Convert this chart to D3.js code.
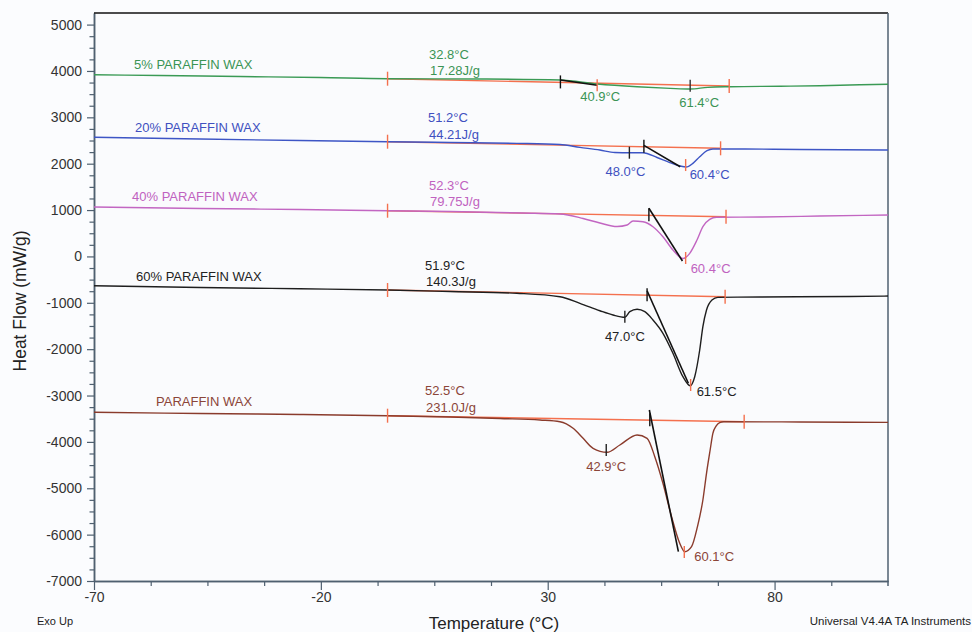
<!DOCTYPE html>
<html>
<head>
<meta charset="utf-8">
<script src="https://cdn.jsdelivr.net/npm/d3@7"></script>
<style>
  body { margin: 0; background: #fbfcfe; }
  svg { display: block; font-family: "Liberation Sans", Arial, sans-serif; }
</style>
</head>
<body>
<svg id="chart" width="972" height="632"></svg>
<script>
'use strict';

// ---- data ----
var seriesNames = ["5% PARAFFIN WAX", "20% PARAFFIN WAX", "40% PARAFFIN WAX", "60% PARAFFIN WAX", "PARAFFIN WAX"];

var temp5  = [-70, -55.5, -37.8, -20.2, -5.3, 15.7, 32.7, 40.9, 49.7, 57.0, 61.4, 65.3, 70.2, 81.2, 90.0, 98.8, 105];
var flow5  = [3919, 3902, 3880, 3859, 3833, 3826, 3805, 3720, 3660, 3625, 3610, 3647, 3660, 3671, 3682, 3703, 3712];

var temp20 = [-70, -46.6, -24.6, -5.3, 8.5, 23.2, 32.7, 37.1, 41.5, 44.8, 48.1, 51.0, 54.1, 56.9, 59.2, 60.5, 62.0, 63.5, 65.1, 66.4, 72.4, 85.6, 105];
var flow20 = [2569, 2532, 2500, 2474, 2457, 2439, 2414, 2353, 2295, 2241, 2237, 2237, 2133, 2025, 1950, 1928, 2008, 2150, 2280, 2317, 2317, 2306, 2295];

var temp40 = [-70, -46.6, -24.6, -5.3, 8.5, 24.6, 32.7, 37.8, 41.5, 45.3, 47.5, 48.8, 51.0, 53.2, 55.4, 57.6, 59.8, 61.3, 62.9, 64.2, 65.7, 67.2, 76.8, 90.0, 105];
var flow40 = [1066, 1033, 1012, 986, 969, 936, 915, 818, 721, 645, 677, 764, 749, 641, 425, 138, -45, 67, 354, 641, 800, 844, 850, 872, 893];

var temp60 = [-70, -46.6, -24.6, -5.3, 8.5, 23.2, 32.7, 37.1, 41.5, 44.4, 47.0, 48.1, 49.7, 51.4, 53.2, 55.4, 57.6, 59.8, 61.4, 62.4, 63.5, 64.2, 65.0, 66.2, 67.5, 76.8, 96.6, 105];
var flow60 = [-632, -670, -698, -724, -757, -795, -869, -1011, -1171, -1263, -1313, -1192, -1140, -1192, -1371, -1658, -2089, -2594, -2790, -2594, -2018, -1516, -1156, -940, -882, -875, -864, -854];

var temp100 = [-70, -46.6, -24.6, -5.3, 8.5, 19.5, 28.3, 32.7, 35.6, 37.8, 40.0, 43.1, 45.9, 49.7, 51.9, 53.6, 55.4, 57.3, 59.1, 60.2, 61.7, 63.0, 64.2, 65.0, 65.8, 66.4, 67.1, 67.9, 68.8, 85.6, 96.6, 105];
var flow100 = [-3362, -3388, -3409, -3435, -3463, -3496, -3528, -3565, -3707, -3923, -4138, -4224, -4067, -3851, -3923, -4319, -4893, -5613, -6187, -6368, -6260, -5829, -5253, -4677, -4175, -3815, -3660, -3585, -3565, -3571, -3576, -3578];

var temps = [temp5, temp20, temp40, temp60, temp100];
var flows = [flow5, flow20, flow40, flow60, flow100];

// integration baselines [temp, flow]
var baseStart = [[-5.3, 3833], [-5.3, 2474], [-5.3, 986], [-5.3, -724], [-5.3, -3435]];
var baseEnd   = [[70.0, 3675], [68.1, 2332], [69.3, 857], [69.1, -869], [73.3, -3565]];

// onset tangents
var onsetTemp  = [32.8, 51.2, 52.3, 51.9, 52.5];
var tangentStart = [[32.8, 3805], [51.2, 2396], [52.3, 1038], [51.9, -740], [52.4, -3312]];
var tangentEnd   = [[40.9, 3690], [59.2, 1935], [59.7, -99], [61.0, -2736], [58.8, -6368]];
var enthalpy = ["17.28", "44.21", "79.75", "140.3", "231.0"];

// peaks: series index, temp, flow at marker
var peakSeries = [0, 0, 1, 1, 2, 3, 3, 4, 4];
var peakTemp   = [40.9, 61.4, 48.0, 60.4, 60.4, 47.0, 61.5, 42.9, 60.1];
var peakFlow   = [3690, 3680, 2237, 1971, -34, -1300, -2773, -4175, -6375];

var yTicks = d3.range(-7000, 5001, 1000);
var xTicks = [-70, -20, 30, 80];

// ---- styling / layout ----
var lineColors = ["#3a9a55", "#3d55c5", "#c266c2", "#1e1e1e", "#8a3b2c"];
var textColors = ["#3a9455", "#4050c0", "#c062c0", "#222222", "#8b4538"];
var orange = "#f4704e";
var axisColor = "#4f6070";
var namePos = [[134, 69], [135, 132], [132, 200.5], [136, 280.5], [156, 406]];
var onsetPos = [[429, 58.5], [428, 122], [429, 189.5], [425, 269.5], [425, 395]];
// marker colour and label placement per peak: [dx, dy, anchor, colour]
var peakStyle = [
  [3, 16, "middle", orange], [-11, 21, "start", "#333"],
  [-4, 23, "middle", "#222"], [4, 14, "start", orange],
  [5, 15, "start", orange],
  [0, 24, "middle", "#222"], [6, 11, "start", orange],
  [0, 21, "middle", "#222"], [10, 8.5, "start", orange]
];

var svg = d3.select("#chart");

var x = d3.scaleLinear().domain([-70, 105]).range([94, 888]);
var y = d3.scaleLinear().domain([-7000, 5250]).range([581, 13]);

svg.append("rect")
  .attr("x", 94).attr("y", 13)
  .attr("width", 794).attr("height", 568)
  .attr("fill", "#fafbfd");

// axes
function styleAxis(g) {
  g.select(".domain").attr("stroke", axisColor).attr("stroke-width", 1.5);
  g.selectAll(".tick line").attr("stroke", axisColor).attr("stroke-width", 1.2);
  g.selectAll(".tick text").attr("fill", "#333").attr("font-size", 14)
    .attr("font-family", "Liberation Sans, Arial, sans-serif");
}

var yMinor = d3.range(-7000, 5001, 250).filter(function(v) { return v % 1000 !== 0; });
var xMinor = d3.range(-70, 100, 12.5).filter(function(v) { return xTicks.indexOf(v) < 0; });

svg.append("g").attr("transform", "translate(94,0)")
  .call(d3.axisLeft(y).tickValues(yMinor).tickSize(4.5).tickFormat("").tickSizeOuter(0))
  .call(styleAxis);
svg.append("g").attr("transform", "translate(94,0)")
  .call(d3.axisLeft(y).tickValues(yTicks).tickSize(7).tickPadding(5)
    .tickFormat(function(d) { return String(d); }).tickSizeOuter(0))
  .call(styleAxis);

svg.append("g").attr("transform", "translate(0,581)")
  .call(d3.axisBottom(x).tickValues(xMinor).tickSize(5).tickFormat("").tickSizeOuter(0))
  .call(styleAxis);
svg.append("g").attr("transform", "translate(0,581)")
  .call(d3.axisBottom(x).tickValues(xTicks).tickSize(9).tickPadding(2)
    .tickFormat(function(d) { return String(d); }).tickSizeOuter(0))
  .call(styleAxis);

// frame: black top, slate right
svg.append("line").attr("x1", 94).attr("x2", 888).attr("y1", 13).attr("y2", 13)
  .attr("stroke", "#111").attr("stroke-width", 1.5);
svg.append("line").attr("x1", 888).attr("x2", 888).attr("y1", 13).attr("y2", 586)
  .attr("stroke", axisColor).attr("stroke-width", 1.5);

var line = d3.line()
  .x(function(d) { return x(d[0]); })
  .y(function(d) { return y(d[1]); })
  .curve(d3.curveMonotoneX);

// baselines first, curves over them
baseStart.forEach(function(s, i) {
  var e = baseEnd[i];
  svg.append("line")
    .attr("x1", x(s[0])).attr("y1", y(s[1]))
    .attr("x2", x(e[0])).attr("y2", y(e[1]))
    .attr("stroke", orange).attr("stroke-width", 1.4);
});

temps.forEach(function(ts, i) {
  var pts = ts.map(function(t, j) { return [t, flows[i][j]]; });
  svg.append("path")
    .datum(pts)
    .attr("d", line)
    .attr("fill", "none")
    .attr("stroke", lineColors[i])
    .attr("stroke-width", 1.4);
});

// baseline end markers
baseStart.forEach(function(s, i) {
  [s, baseEnd[i]].forEach(function(p) {
    svg.append("line")
      .attr("x1", x(p[0])).attr("x2", x(p[0]))
      .attr("y1", y(p[1]) - 7).attr("y2", y(p[1]) + 7)
      .attr("stroke", orange).attr("stroke-width", 1.4);
  });
});

// onset tangents and onset markers
tangentStart.forEach(function(s, i) {
  var e = tangentEnd[i];
  svg.append("line")
    .attr("x1", x(s[0])).attr("y1", y(s[1]))
    .attr("x2", x(e[0])).attr("y2", y(e[1]))
    .attr("stroke", "#111").attr("stroke-width", 1.6);
  var b0 = baseStart[i], b1 = baseEnd[i];
  var bv = b0[1] + (b1[1] - b0[1]) * (onsetTemp[i] - b0[0]) / (b1[0] - b0[0]);
  svg.append("line")
    .attr("x1", x(onsetTemp[i])).attr("x2", x(onsetTemp[i]))
    .attr("y1", y(bv) - 7).attr("y2", y(bv) + 6)
    .attr("stroke", "#111").attr("stroke-width", 1.4);
});

// peak markers + labels
peakTemp.forEach(function(t, k) {
  var st = peakStyle[k];
  var px = x(t), py = y(peakFlow[k]);
  svg.append("line")
    .attr("x1", px).attr("x2", px)
    .attr("y1", py - 6).attr("y2", py + 6)
    .attr("stroke", st[3]).attr("stroke-width", 1.4);
  svg.append("text")
    .attr("x", px + st[0]).attr("y", py + st[1])
    .attr("text-anchor", st[2])
    .attr("font-size", 13)
    .attr("fill", textColors[peakSeries[k]])
    .text(t.toFixed(1) + "°C");
});

// series names and onset / enthalpy labels
seriesNames.forEach(function(name, i) {
  svg.append("text")
    .attr("x", namePos[i][0]).attr("y", namePos[i][1])
    .attr("font-size", 13).attr("fill", textColors[i])
    .text(name);
  svg.append("text")
    .attr("x", onsetPos[i][0]).attr("y", onsetPos[i][1])
    .attr("font-size", 13).attr("fill", textColors[i])
    .text(onsetTemp[i].toFixed(1) + "°C");
  svg.append("text")
    .attr("x", onsetPos[i][0] + 1).attr("y", onsetPos[i][1] + 16.5)
    .attr("font-size", 13).attr("fill", textColors[i])
    .text(enthalpy[i] + "J/g");
});

// axis titles and footer
svg.append("text")
  .attr("transform", "translate(26,301) rotate(-90)")
  .attr("text-anchor", "middle")
  .attr("font-size", 17.5).attr("fill", "#222")
  .text("Heat Flow (mW/g)");

svg.append("text")
  .attr("x", 494).attr("y", 629)
  .attr("text-anchor", "middle")
  .attr("font-size", 17).attr("fill", "#222")
  .text("Temperature (°C)");

svg.append("text")
  .attr("x", 37).attr("y", 625)
  .attr("font-size", 11).attr("fill", "#222")
  .text("Exo Up");

svg.append("text")
  .attr("x", 971).attr("y", 625)
  .attr("text-anchor", "end")
  .attr("font-size", 11.5).attr("fill", "#222")
  .text("Universal V4.4A TA Instruments");
</script>
</body>
</html>
